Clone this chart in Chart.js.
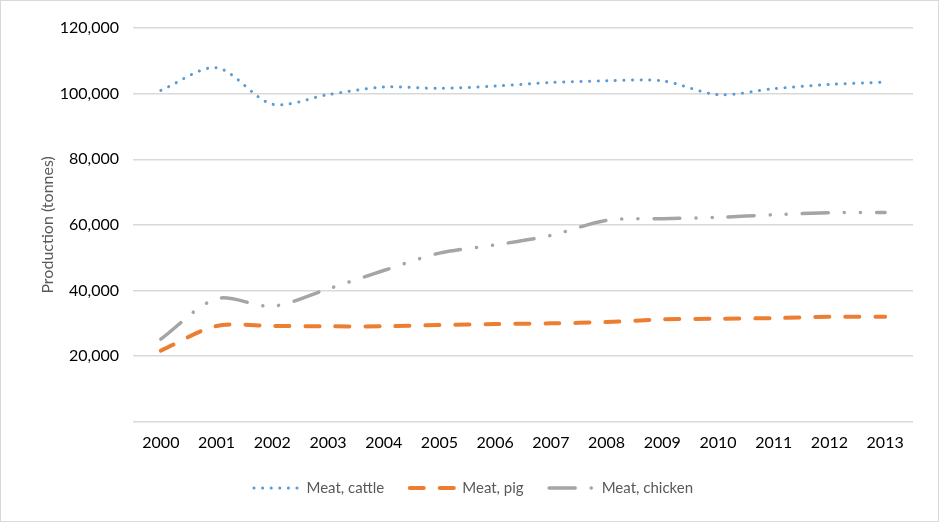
<!DOCTYPE html>
<html>
<head>
<meta charset="utf-8">
<script src="https://cdn.jsdelivr.net/npm/chart.js@4"></script>
<style>
  html, body { margin: 0; padding: 0; background: #fff; }
  .wrap { width: 939px; height: 522px; position: relative; overflow: hidden; }
  .frame { position: absolute; left: 0; top: 0; right: 0; bottom: 0; border: 1px solid #d9d9d9; box-sizing: border-box; pointer-events: none; }
  canvas { display: block; }
</style>
</head>
<body>
<div class="wrap">
  <canvas id="c" width="939" height="522"></canvas>
  <div class="frame"></div>
</div>
<script>
// 年份
const years = ['2000', '2001', '2002', '2003', '2004', '2005', '2006', '2007', '2008', '2009', '2010', '2011', '2012', '2013'];

// 产量 (吨)
const cattle = [101000, 107900, 96800, 99700, 102000, 101600, 102300, 103400, 103900, 103900, 99700, 101500, 102800, 103500];
const pig = [21700, 29200, 29200, 29100, 29100, 29500, 29800, 30000, 30400, 31200, 31400, 31600, 32000, 32000];
const chicken = [25200, 37500, 35200, 40500, 46100, 51400, 53900, 56800, 61400, 61900, 62300, 63100, 63700, 63800];

const yTicks = [0, 20000, 40000, 60000, 80000, 100000, 120000];

const fontFamily = 'Lato, "Noto Sans", sans-serif';

const ctx = document.getElementById('c').getContext('2d');
new Chart(ctx, {
    type: 'line',
    data: {
        labels: years,
        datasets: [
            {
                label: 'Meat, cattle',
                data: cattle,
                borderColor: '#5b9bd5',
                borderWidth: 3,
                borderDash: [0.1, 8.5],
                borderCapStyle: 'round',
                pointRadius: 0,
                tension: 0.3
            },
            {
                label: 'Meat, pig',
                data: pig,
                borderColor: '#ed7d31',
                borderWidth: 4,
                borderDash: [14, 16],
                borderCapStyle: 'round',
                pointRadius: 0,
                tension: 0.3
            },
            {
                label: 'Meat, chicken',
                data: chicken,
                borderColor: '#a5a5a5',
                borderWidth: 3.5,
                borderDash: [26, 16, 0.1, 16, 0.1, 16],
                borderCapStyle: 'round',
                pointRadius: 0,
                tension: 0.3
            }
        ]
    },
    options: {
        responsive: false,
        animation: false,
        layout: { padding: { top: 28, right: 26, bottom: 16.5, left: 34 } },
        plugins: {
            legend: {
                position: 'bottom',
                labels: {
                    usePointStyle: true,
                    pointStyle: 'line',
                    pointStyleWidth: 45,
                    boxHeight: 14,
                    padding: 25.5,
                    color: '#595959',
                    font: { family: fontFamily, size: 15 },
                    // 图例线条使用数据集自身的虚线样式
                    generateLabels: (chart) => chart.data.datasets.map((ds, i) => ({
                        text: ds.label,
                        datasetIndex: i,
                        fontColor: '#595959',
                        strokeStyle: ds.borderColor,
                        fillStyle: ds.borderColor,
                        lineWidth: ds.borderWidth,
                        lineDash: ds.borderDash,
                        lineCap: 'round',
                        pointStyle: 'line',
                        hidden: false
                    }))
                }
            },
            tooltip: { enabled: false }
        },
        scales: {
            x: {
                offset: true,
                grid: { display: false },
                border: { display: false },
                ticks: {
                    color: '#000',
                    padding: 3,
                    maxRotation: 0,
                    font: { family: fontFamily, size: 16 }
                }
            },
            y: {
                min: 0,
                max: 120000,
                afterFit: (scale) => { scale.width = 99; },
                afterBuildTicks: (scale) => {
                    scale.ticks = yTicks.map(v => ({ value: v }));
                },
                grid: { color: '#d9d9d9', lineWidth: 1.5, drawTicks: false },
                border: { display: false },
                title: {
                    display: true,
                    text: 'Production (tonnes)',
                    color: '#595959',
                    font: { family: fontFamily, size: 16 }
                },
                ticks: {
                    color: '#000',
                    padding: 14,
                    font: { family: fontFamily, size: 16 },
                    callback: (v) => v === 0 ? '' : v.toLocaleString('en-US')
                }
            }
        }
    }
});
</script>
</body>
</html>
